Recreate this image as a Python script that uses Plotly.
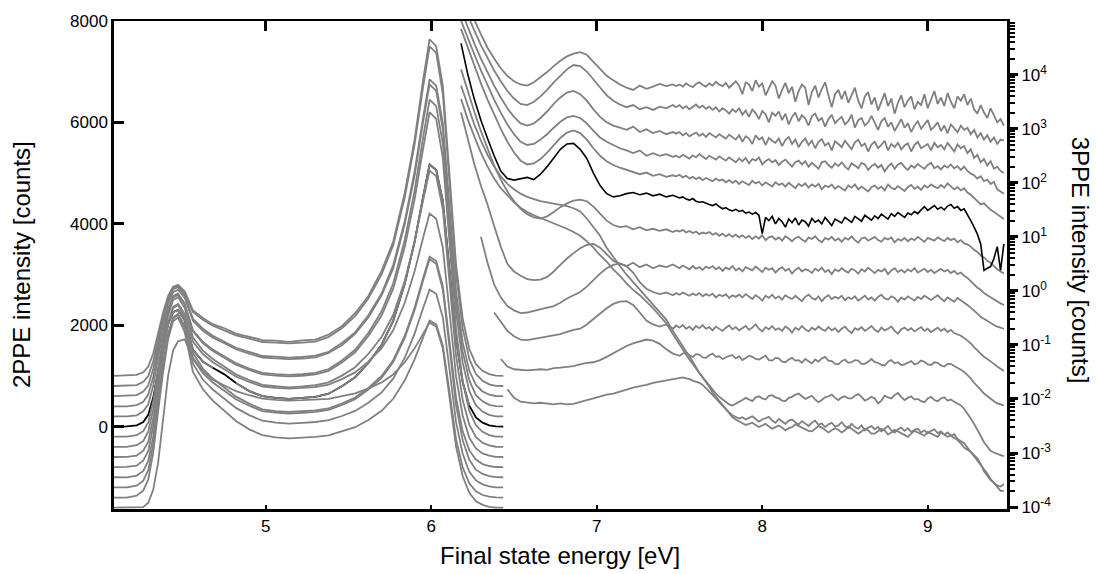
import plotly.graph_objects as go

GRAY = "#808080"
FONT = "Liberation Sans, Arial, sans-serif"

# ---------------- 2PPE spectra (left axis, linear counts) ----------------
energy_2ppe = [4.08, 4.16, 4.22, 4.26, 4.29, 4.32, 4.35, 4.38, 4.41, 4.44,
               4.47, 4.51, 4.56, 4.62, 4.68, 4.75, 4.82, 4.90, 4.98, 5.06,
               5.14, 5.22, 5.30, 5.38, 5.46, 5.54, 5.62, 5.70, 5.77, 5.84,
               5.90, 5.95, 5.99, 6.03, 6.07, 6.11, 6.15, 6.19, 6.23, 6.27,
               6.31, 6.35, 6.39, 6.435]

ppe2_c0 = [1000, 1004, 1020, 1070, 1185, 1440, 1865, 2250, 2580, 2760, 2795, 2670, 2290, 2140, 2020, 1940, 1835, 1775, 1705, 1695, 1670, 1700, 1715, 1815, 1980, 2235, 2575, 3070, 3645, 4615, 5670, 6820, 7640, 7500, 6720, 4980, 3190, 2130, 1530, 1230, 1100, 1035, 1005, 1000]
ppe2_c1 = [800, 805, 818, 882, 995, 1290, 1750, 2175, 2540, 2725, 2772, 2640, 2262, 2105, 1990, 1900, 1800, 1735, 1668, 1655, 1640, 1655, 1675, 1770, 1940, 2180, 2525, 3000, 3575, 4520, 5575, 6680, 7500, 7370, 6560, 4825, 3010, 1940, 1335, 1035, 905, 832, 803, 800]
ppe2_c2 = [600, 603, 620, 690, 812, 1140, 1628, 2110, 2488, 2712, 2750, 2590, 2125, 1930, 1790, 1680, 1555, 1475, 1392, 1378, 1360, 1372, 1400, 1475, 1650, 1858, 2195, 2625, 3185, 4050, 5045, 6080, 6850, 6720, 5980, 4345, 2665, 1660, 1100, 820, 692, 630, 603, 600]
ppe2_c3 = [400, 398, 425, 490, 632, 972, 1508, 2005, 2430, 2650, 2700, 2540, 2085, 1890, 1755, 1645, 1525, 1440, 1362, 1345, 1330, 1342, 1365, 1452, 1605, 1830, 2150, 2590, 3120, 3995, 4960, 5995, 6750, 6620, 5865, 4205, 2500, 1478, 910, 620, 497, 430, 402, 400]
ppe2_c4 = [200, 203, 222, 300, 440, 808, 1360, 1898, 2325, 2575, 2620, 2432, 1900, 1672, 1518, 1385, 1250, 1145, 1058, 1035, 1020, 1032, 1060, 1135, 1305, 1515, 1845, 2275, 2822, 3680, 4665, 5690, 6450, 6320, 5580, 3945, 2265, 1260, 702, 418, 295, 230, 202, 200]
ppe2_black = [0, 2, 25, 90, 232, 572, 1105, 1612, 2020, 2258, 2300, 2095, 1515, 1280, 1160, 1030, 860, 700, 600, 565, 548, 560, 585, 648, 795, 972, 1255, 1615, 2085, 2815, 3655, 4520, 5170, 5060, 4450, 3100, 1710, 880, 412, 182, 78, 25, 3, 0]
ppe2_c6 = [-200, -198, -170, -90, 82, 498, 1146, 1755, 2268, 2540, 2600, 2410, 1878, 1645, 1490, 1356, 1220, 1118, 1028, 1005, 990, 1002, 1028, 1100, 1262, 1465, 1785, 2190, 2720, 3545, 4490, 5470, 6200, 6070, 5300, 3645, 1910, 890, 310, 25, -103, -167, -197, -200]
ppe2_c7 = [-400, -402, -368, -285, -102, 340, 1012, 1668, 2192, 2495, 2550, 2342, 1755, 1498, 1332, 1180, 1030, 918, 822, 795, 775, 792, 815, 872, 1005, 1170, 1432, 1768, 2200, 2875, 3648, 4450, 5050, 4940, 4290, 2865, 1400, 525, 38, -208, -320, -372, -398, -400]
ppe2_c8 = [-600, -598, -572, -476, -300, 158, 848, 1518, 2055, 2362, 2420, 2225, 1670, 1430, 1270, 1128, 988, 880, 790, 765, 748, 762, 780, 826, 935, 1068, 1280, 1548, 1898, 2442, 3070, 3715, 4200, 4100, 3530, 2275, 985, 215, -218, -430, -530, -575, -598, -600]
ppe2_c9 = [-800, -797, -770, -670, -482, 4, 732, 1445, 2012, 2340, 2400, 2150, 1450, 1145, 948, 765, 590, 452, 338, 305, 290, 302, 318, 358, 455, 572, 762, 998, 1310, 1792, 2348, 2920, 3350, 3265, 2770, 1688, 572, -95, -470, -652, -740, -778, -798, -800]
ppe2_c10 = [-1000, -1003, -966, -874, -675, -198, 550, 1250, 1838, 2152, 2220, 1990, 1338, 1055, 870, 702, 540, 410, 305, 275, 258, 272, 288, 328, 425, 540, 728, 962, 1275, 1750, 2305, 2872, 3300, 3210, 2700, 1578, 420, -270, -655, -850, -935, -978, -998, -1000]
ppe2_c11 = [-1200, -1198, -1165, -1066, -858, -352, 435, 1178, 1795, 2130, 2200, 1948, 1240, 928, 730, 545, 368, 225, 115, 78, 60, 74, 90, 125, 208, 308, 470, 675, 945, 1358, 1838, 2330, 2700, 2620, 2155, 1138, 88, -535, -890, -1062, -1140, -1180, -1198, -1200]
ppe2_c12 = [-1400, -1402, -1362, -1260, -1042, -515, 308, 1082, 1728, 2075, 2150, 1870, 1080, 735, 512, 306, 110, -55, -168, -215, -232, -218, -204, -175, -100, -12, 130, 310, 548, 910, 1332, 1765, 2090, 2018, 1600, 695, -250, -805, -1120, -1278, -1350, -1382, -1398, -1400]
ppe2_c13 = [-1600, -1600, -1598, -1588, -1502, -1248, -702, 198, 1005, 1498, 1682, 1720, 1355, 1100, 925, 810, 698, 618, 552, 528, 512, 520, 530, 548, 600, 655, 752, 870, 1028, 1268, 1548, 1832, 2050, 1975, 1540, 588, -395, -980, -1305, -1472, -1545, -1582, -1598, -1600]

ppe2_gray = [ppe2_c0, ppe2_c1, ppe2_c2, ppe2_c3, ppe2_c4, ppe2_c6, ppe2_c7,
             ppe2_c8, ppe2_c9, ppe2_c10, ppe2_c11, ppe2_c12, ppe2_c13]

# stretches (index ranges) where the black 2PPE spectrum is covered by a gray one
black_2ppe_hidden = [(6, 14), (16, 38)]

# ---------------- 3PPE spectra (right axis, log10 of counts) ----------------
energy_3ppe = [6.18, 6.22, 6.26, 6.30, 6.34, 6.38, 6.42, 6.46, 6.50, 6.54,
               6.58, 6.62, 6.66, 6.70, 6.74, 6.78, 6.82, 6.86, 6.90, 6.94,
               6.98, 7.02, 7.06, 7.10, 7.14, 7.18, 7.22, 7.26, 7.30, 7.34,
               7.38, 7.42, 7.46,
               7.48, 7.50, 7.52, 7.54, 7.56, 7.58, 7.60, 7.62, 7.64, 7.66,
               7.68, 7.70, 7.72, 7.74, 7.76, 7.78, 7.80, 7.82, 7.84, 7.86,
               7.88, 7.90, 7.92, 7.94, 7.96, 7.98, 8.00, 8.02, 8.04, 8.06,
               8.08, 8.10, 8.12, 8.14, 8.16, 8.18, 8.20, 8.22, 8.24, 8.26,
               8.28, 8.30, 8.32, 8.34, 8.36, 8.38, 8.40, 8.42, 8.44, 8.46,
               8.48, 8.50, 8.52, 8.54, 8.56, 8.58, 8.60, 8.62, 8.64, 8.66,
               8.68, 8.70, 8.72, 8.74, 8.76, 8.78, 8.80, 8.82, 8.84, 8.86,
               8.88, 8.90, 8.92, 8.94, 8.96, 8.98, 9.00, 9.02, 9.04, 9.06,
               9.08, 9.10, 9.12, 9.14, 9.16, 9.18, 9.20, 9.22, 9.24, 9.26,
               9.28, 9.30, 9.32, 9.34, 9.36, 9.38, 9.40, 9.42, 9.44, 9.46]

ppe3_log_c0 = [5.60, 5.30, 5.02, 4.75, 4.50, 4.30, 4.12, 3.98, 3.88, 3.82,
               3.80, 3.86, 3.95, 4.05, 4.16, 4.26, 4.34, 4.39, 4.42, 4.37,
               4.24, 4.10, 3.98, 3.90, 3.82, 3.76, 3.72, 3.80, 3.74, 3.78,
               3.83, 3.79, 3.82,
               3.79, 3.82, 3.78, 3.84, 3.80, 3.77, 3.83, 3.86, 3.81, 3.78,
               3.84, 3.80, 3.87, 3.82, 3.79, 3.85, 3.76, 3.83, 3.88, 3.80,
               3.64, 3.86, 3.82, 3.70, 3.90, 3.78, 3.84, 3.62, 3.75, 3.88,
               3.80, 3.56, 3.72, 3.85, 3.66, 3.78, 3.50, 3.70, 3.82, 3.76,
               3.44, 3.68, 3.80, 3.58, 3.74, 3.86, 3.62, 3.40, 3.64, 3.72,
               3.55, 3.70, 3.48, 3.62, 3.76, 3.52, 3.38, 3.60, 3.68, 3.45,
               3.58, 3.34, 3.50, 3.66, 3.42, 3.56, 3.28, 3.48, 3.62, 3.40,
               3.52, 3.60, 3.36, 3.50, 3.44, 3.64, 3.38, 3.54, 3.70, 3.46,
               3.58, 3.42, 3.66, 3.50, 3.38, 3.60, 3.52, 3.64, 3.44, 3.56,
               3.36, 3.28, 3.44, 3.30, 3.20, 3.38, 3.26, 3.12, 3.18, 3.06]
ppe3_log_c1 = [5.40, 5.10, 4.82, 4.55, 4.30, 4.08, 3.88, 3.70, 3.56, 3.46,
               3.44, 3.50, 3.60, 3.72, 3.86, 3.99, 4.10, 4.18, 4.16, 4.06,
               3.92, 3.76, 3.62, 3.52, 3.45, 3.40, 3.44, 3.36, 3.40, 3.35,
               3.41, 3.38, 3.44,
               3.40, 3.44, 3.38, 3.42, 3.36, 3.41, 3.45, 3.39, 3.43, 3.37,
               3.41, 3.35, 3.40, 3.32, 3.38, 3.34, 3.28, 3.36, 3.31, 3.38,
               3.26, 3.34, 3.22, 3.36, 3.29, 3.18, 3.33, 3.27, 3.12, 3.30,
               3.24, 3.32, 3.16, 3.28, 3.08, 3.22, 3.30, 3.14, 3.25, 3.19,
               3.06, 3.23, 3.28, 3.15, 3.20, 3.04, 3.18, 3.26, 3.10, 3.17,
               3.22, 3.08, 3.14, 3.26, 3.02, 3.16, 3.20, 3.06, 3.12, 3.24,
               3.10, 2.98, 3.14, 3.20, 3.04, 3.12, 2.96, 3.08, 3.18, 3.02,
               3.10, 2.94, 3.06, 3.14, 3.00, 3.08, 3.16, 2.98, 3.04, 3.12,
               2.96, 3.06, 2.92, 3.08, 3.00, 2.94, 3.06, 2.98, 3.02, 2.90,
               2.98, 2.84, 2.92, 2.80, 2.88, 2.76, 2.84, 2.72, 2.80, 2.78]
ppe3_log_c2 = [5.20, 4.88, 4.58, 4.30, 4.04, 3.80, 3.58, 3.38, 3.22, 3.10,
               3.06, 3.10, 3.20, 3.32, 3.46, 3.58, 3.67, 3.70, 3.64, 3.52,
               3.36, 3.22, 3.12, 3.06, 3.02, 2.98, 3.04, 2.94, 2.99, 2.92,
               2.96, 2.90, 2.94,
               2.91, 2.94, 2.88, 2.92, 2.86, 2.90, 2.93, 2.87, 2.91, 2.85,
               2.92, 2.88, 2.84, 2.90, 2.86, 2.82, 2.89, 2.85, 2.80, 2.88,
               2.76, 2.86, 2.82, 2.72, 2.88, 2.80, 2.84, 2.70, 2.83, 2.78,
               2.74, 2.82, 2.68, 2.79, 2.85, 2.72, 2.80, 2.66, 2.76, 2.82,
               2.70, 2.78, 2.64, 2.76, 2.81, 2.69, 2.74, 2.60, 2.77, 2.72,
               2.66, 2.78, 2.70, 2.62, 2.75, 2.80, 2.68, 2.73, 2.58, 2.71,
               2.76, 2.64, 2.70, 2.78, 2.60, 2.72, 2.66, 2.74, 2.62, 2.69,
               2.73, 2.58, 2.70, 2.76, 2.64, 2.68, 2.72, 2.60, 2.74, 2.66,
               2.70, 2.62, 2.74, 2.66, 2.58, 2.71, 2.64, 2.68, 2.55, 2.62,
               2.46, 2.52, 2.38, 2.44, 2.32, 2.40, 2.26, 2.30, 2.22, 2.18]
ppe3_log_c3 = [5.00, 4.68, 4.38, 4.08, 3.80, 3.54, 3.30, 3.08, 2.90, 2.76,
               2.70, 2.72, 2.80, 2.90, 3.02, 3.13, 3.21, 3.24, 3.20, 3.10,
               2.96, 2.84, 2.76, 2.70, 2.64, 2.60, 2.55, 2.60, 2.50, 2.55,
               2.50, 2.53, 2.48,
               2.50, 2.47, 2.52, 2.48, 2.45, 2.51, 2.47, 2.53, 2.49, 2.44,
               2.50, 2.46, 2.43, 2.49, 2.45, 2.41, 2.47, 2.42, 2.38, 2.45,
               2.40, 2.46, 2.36, 2.44, 2.41, 2.47, 2.34, 2.40, 2.44, 2.38,
               2.42, 2.33, 2.39, 2.43, 2.36, 2.30, 2.38, 2.41, 2.34, 2.40,
               2.30, 2.37, 2.32, 2.26, 2.38, 2.40, 2.33, 2.28, 2.36, 2.31,
               2.38, 2.30, 2.25, 2.36, 2.32, 2.27, 2.37, 2.34, 2.24, 2.31,
               2.35, 2.28, 2.33, 2.21, 2.30, 2.36, 2.26, 2.34, 2.37, 2.29,
               2.24, 2.32, 2.28, 2.35, 2.30, 2.26, 2.33, 2.37, 2.27, 2.31,
               2.25, 2.32, 2.28, 2.34, 2.27, 2.31, 2.24, 2.30, 2.22, 2.17,
               2.14, 2.08, 2.12, 2.03, 2.06, 1.98, 2.02, 1.88, 1.84, 1.80]
ppe3_log_c4 = [4.85, 4.50, 4.16, 3.84, 3.54, 3.26, 3.00, 2.76, 2.56, 2.41,
               2.34, 2.36, 2.44, 2.56, 2.70, 2.83, 2.93, 2.97, 2.92, 2.80,
               2.64, 2.50, 2.40, 2.33, 2.28, 2.24, 2.20, 2.16, 2.19, 2.13,
               2.16, 2.11, 2.14,
               2.12, 2.15, 2.10, 2.13, 2.08, 2.11, 2.07, 2.10, 2.05, 2.09,
               2.06, 2.03, 2.08, 2.04, 2.06, 2.01, 2.05, 2.00, 2.04, 1.98,
               2.03, 2.00, 1.96, 2.04, 1.99, 2.02, 1.95, 2.01, 1.97, 1.93,
               2.01, 1.96, 1.99, 1.93, 2.00, 1.95, 1.90, 1.98, 1.94, 1.99,
               1.91, 1.97, 1.93, 1.98, 1.88, 1.95, 1.92, 1.97, 1.89, 1.94,
               1.90, 1.86, 1.95, 1.91, 1.97, 1.88, 1.93, 1.89, 1.84, 1.92,
               1.95, 1.89, 1.93, 1.86, 1.97, 1.91, 1.88, 1.94, 1.90, 1.85,
               1.92, 1.96, 1.89, 1.93, 1.87, 1.95, 1.91, 1.97, 1.93, 1.90,
               1.96, 1.91, 1.99, 1.94, 1.88, 1.92, 1.86, 1.90, 1.82, 1.78,
               1.72, 1.66, 1.60, 1.62, 1.55, 1.50, 1.46, 1.42, 1.38, 1.33]
ppe3_log_black = [4.58, 4.02, 3.55, 3.16, 2.82, 2.50, 2.22, 2.08, 2.05, 2.07,
                  2.10, 2.06, 2.16, 2.30, 2.46, 2.62, 2.72, 2.73, 2.62, 2.45,
                  2.18, 1.95, 1.80, 1.74, 1.76, 1.80, 1.82, 1.78, 1.81, 1.76,
                  1.79, 1.74, 1.77,
                  1.75, 1.72, 1.74, 1.70, 1.68, 1.71, 1.66, 1.64, 1.65, 1.62,
                  1.60, 1.58, 1.61, 1.56, 1.52, 1.54, 1.50, 1.48, 1.51, 1.47,
                  1.49, 1.44, 1.46, 1.42, 1.45, 1.40, 1.06, 1.36, 1.30, 1.38,
                  1.24, 1.34, 1.28, 1.18, 1.33, 1.26, 1.35, 1.22, 1.31, 1.28,
                  1.20, 1.34, 1.27, 1.31, 1.24, 1.36, 1.29, 1.21, 1.33, 1.30,
                  1.26, 1.36, 1.31, 1.27, 1.38, 1.33, 1.29, 1.40, 1.35, 1.31,
                  1.39, 1.34, 1.42, 1.37, 1.33, 1.43, 1.38, 1.45, 1.40, 1.36,
                  1.44, 1.41, 1.47, 1.43, 1.50, 1.56, 1.49, 1.53, 1.58, 1.51,
                  1.55, 1.50, 1.57, 1.60, 1.53, 1.56, 1.49, 1.52, 1.42, 1.30,
                  1.18, 1.05, 0.87, 0.38, 0.42, 0.45, 0.60, 0.82, 0.38, 0.87]
ppe3_log_c6 = [4.10, 3.70, 3.32, 2.96, 2.62, 2.32, 2.06, 1.84, 1.66, 1.52,
               1.42, 1.36, 1.34, 1.38, 1.46, 1.55, 1.62, 1.67, 1.69, 1.66,
               1.56, 1.42, 1.30, 1.22, 1.18, 1.20, 1.14, 1.18, 1.12, 1.15,
               1.11, 1.14, 1.09,
               1.12, 1.10, 1.13, 1.08, 1.11, 1.07, 1.10, 1.05, 1.08, 1.06,
               1.09, 1.04, 1.07, 1.02, 1.06, 1.01, 1.05, 1.00, 1.04, 0.99,
               1.03, 0.98, 1.02, 0.96, 1.01, 0.97, 1.03, 0.94, 0.99, 1.01,
               0.95, 0.99, 0.93, 1.01, 0.97, 0.92, 0.98, 1.00, 0.95, 0.91,
               0.99, 0.96, 1.01, 0.94, 0.90, 0.98, 0.95, 1.00, 0.93, 0.97,
               0.91, 0.98, 0.95, 1.01, 0.94, 0.89, 0.97, 0.99, 0.93, 0.96,
               1.00, 0.94, 0.91, 0.98, 0.95, 0.99, 0.90, 0.96, 0.93, 0.98,
               0.92, 0.97, 0.94, 1.00, 0.96, 0.91, 0.98, 0.95, 0.93, 0.99,
               0.95, 0.92, 0.98, 0.94, 0.97, 0.90, 0.94, 0.88, 0.86, 0.82,
               0.76, 0.72, 0.66, 0.62, 0.56, 0.52, 0.46, 0.40, 0.36, 0.32]
ppe3_log_c7 = [3.30, 2.80, 2.35, 1.95, 1.60, 1.20, 0.82, 0.50, 0.36, 0.28,
               0.22, 0.20, 0.21, 0.26, 0.36, 0.48, 0.60, 0.70, 0.79, 0.85,
               0.87, 0.80, 0.68, 0.56, 0.50, 0.46, 0.52, 0.44, 0.49, 0.42,
               0.47, 0.44, 0.49,
               0.45, 0.42, 0.47, 0.43, 0.40, 0.46, 0.41, 0.44, 0.39, 0.45,
               0.42, 0.46, 0.40, 0.44, 0.37, 0.43, 0.40, 0.46, 0.38, 0.42,
               0.36, 0.44, 0.41, 0.38, 0.45, 0.40, 0.35, 0.43, 0.39, 0.42,
               0.34, 0.40, 0.44, 0.37, 0.41, 0.32, 0.39, 0.43, 0.36, 0.40,
               0.38, 0.33, 0.41, 0.37, 0.43, 0.35, 0.39, 0.31, 0.40, 0.36,
               0.42, 0.37, 0.34, 0.41, 0.38, 0.32, 0.40, 0.36, 0.43, 0.38,
               0.33, 0.39, 0.36, 0.41, 0.31, 0.38, 0.42, 0.35, 0.39, 0.34,
               0.40, 0.36, 0.42, 0.34, 0.38, 0.41, 0.35, 0.39, 0.33, 0.37,
               0.41, 0.36, 0.39, 0.33, 0.37, 0.31, 0.34, 0.28, 0.24, 0.18,
               0.12, 0.06, 0.02, -0.04, -0.08, -0.12, -0.16, -0.20, -0.23, -0.26]
ppe3_log_c8 = [None, None, None, 1.00, 0.52, 0.12, -0.12, -0.28, -0.36, -0.41,
               -0.40, -0.37, -0.34, -0.30, -0.28, -0.22, -0.14, -0.08, -0.02, 0.08,
               0.20, 0.32, 0.42, 0.48, 0.51, 0.46, 0.34, 0.16, 0.04, -0.02,
               -0.06, -0.03, -0.08,
               -0.04, -0.07, -0.03, -0.06, -0.09, -0.05, -0.08, -0.04, -0.10, -0.06,
               -0.09, -0.05, -0.12, -0.07, -0.10, -0.06, -0.13, -0.08, -0.11, -0.07,
               -0.12, -0.06, -0.10, -0.15, -0.08, -0.12, -0.18, -0.09, -0.13, -0.07,
               -0.14, -0.10, -0.16, -0.08, -0.12, -0.15, -0.09, -0.14, -0.19, -0.11,
               -0.07, -0.13, -0.16, -0.10, -0.19, -0.12, -0.08, -0.15, -0.11, -0.14,
               -0.09, -0.17, -0.12, -0.15, -0.10, -0.18, -0.13, -0.09, -0.16, -0.12,
               -0.18, -0.11, -0.07, -0.14, -0.16, -0.10, -0.13, -0.20, -0.12, -0.16,
               -0.10, -0.14, -0.18, -0.11, -0.15, -0.09, -0.13, -0.17, -0.12, -0.08,
               -0.14, -0.19, -0.12, -0.16, -0.20, -0.13, -0.17, -0.22, -0.26, -0.31,
               -0.36, -0.42, -0.48, -0.52, -0.56, -0.60, -0.63, -0.66, -0.68, -0.70]
ppe3_log_c9 = [None, None, None, None, None, -0.40, -0.56, -0.74, -0.84, -0.90,
               -0.91, -0.89, -0.86, -0.84, -0.83, -0.80, -0.76, -0.72, -0.70, -0.62,
               -0.52, -0.42, -0.32, -0.24, -0.20, -0.19, -0.26, -0.40, -0.55, -0.62,
               -0.66, -0.62, -0.70,
               -0.64, -0.68, -0.63, -0.70, -0.66, -0.72, -0.65, -0.69, -0.63, -0.70,
               -0.67, -0.73, -0.66, -0.70, -0.74, -0.68, -0.64, -0.71, -0.67, -0.73,
               -0.69, -0.65, -0.72, -0.68, -0.62, -0.70, -0.75, -0.67, -0.71, -0.65,
               -0.72, -0.69, -0.74, -0.66, -0.70, -0.77, -0.68, -0.72, -0.65, -0.71,
               -0.75, -0.68, -0.72, -0.66, -0.71, -0.74, -0.67, -0.73, -0.69, -0.76,
               -0.70, -0.66, -0.73, -0.78, -0.69, -0.72, -0.67, -0.74, -0.70, -0.65,
               -0.72, -0.76, -0.68, -0.73, -0.70, -0.66, -0.74, -0.79, -0.71, -0.68,
               -0.73, -0.69, -0.75, -0.71, -0.67, -0.74, -0.70, -0.76, -0.72, -0.68,
               -0.74, -0.70, -0.76, -0.72, -0.78, -0.80, -0.83, -0.87, -0.92, -0.97,
               -1.04, -1.10, -1.16, -1.22, -1.26, -1.30, -1.35, -1.40, -1.44, -1.48]
ppe3_log_c10 = [None, None, None, None, None, None, -1.26, -1.40, -1.45, -1.46,
                -1.47, -1.46, -1.45, -1.46, -1.43, -1.42, -1.41, -1.39, -1.36, -1.33,
                -1.32, -1.28, -1.22, -1.15, -1.08, -1.02, -0.97, -0.93, -0.90, -0.92,
                -0.98, -1.08, -1.16,
                -1.18, -1.20, -1.16, -1.14, -1.19, -1.22, -1.17, -1.18, -1.23, -1.24,
                -1.19, -1.16, -1.22, -1.21, -1.26, -1.23, -1.20, -1.19, -1.25, -1.21,
                -1.28, -1.24, -1.20, -1.22, -1.26, -1.27, -1.23, -1.20, -1.28, -1.29,
                -1.24, -1.25, -1.31, -1.32, -1.27, -1.24, -1.29, -1.28, -1.33, -1.26,
                -1.30, -1.34, -1.27, -1.31, -1.25, -1.22, -1.29, -1.30, -1.35, -1.36,
                -1.30, -1.27, -1.33, -1.32, -1.28, -1.29, -1.35, -1.35, -1.31, -1.26,
                -1.32, -1.33, -1.37, -1.38, -1.31, -1.28, -1.34, -1.32, -1.37, -1.36,
                -1.33, -1.30, -1.36, -1.34, -1.29, -1.31, -1.36, -1.37, -1.32, -1.33,
                -1.38, -1.40, -1.35, -1.35, -1.39, -1.42, -1.46, -1.50, -1.56, -1.62,
                -1.70, -1.76, -1.83, -1.90, -1.95, -2.00, -2.04, -2.08, -2.10, -2.12]
ppe3_log_c11 = [None, None, None, None, None, None, None, -1.82, -1.98, -2.05,
                -2.06, -2.08, -2.07, -2.09, -2.10, -2.08, -2.10, -2.09, -2.05, -2.02,
                -1.99, -1.95, -1.92, -1.90, -1.86, -1.82, -1.79, -1.76, -1.74, -1.70,
                -1.68, -1.66, -1.63,
                -1.62, -1.61, -1.60, -1.62, -1.63, -1.66, -1.68, -1.70, -1.74, -1.80,
                -1.86, -1.92, -1.99, -2.06, -2.13, -2.20, -2.25, -2.30, -2.33, -2.36,
                -2.34, -2.38, -2.35, -2.32, -2.37, -2.42, -2.38, -2.36, -2.33, -2.40,
                -2.44, -2.37, -2.41, -2.46, -2.40, -2.38, -2.43, -2.47, -2.41, -2.46,
                -2.50, -2.44, -2.40, -2.48, -2.45, -2.52, -2.47, -2.44, -2.51, -2.49,
                -2.43, -2.50, -2.54, -2.46, -2.52, -2.55, -2.49, -2.58, -2.53, -2.50,
                -2.56, -2.52, -2.60, -2.55, -2.50, -2.58, -2.62, -2.56, -2.53, -2.59,
                -2.54, -2.61, -2.57, -2.55, -2.62, -2.58, -2.64, -2.59, -2.56, -2.63,
                -2.60, -2.66, -2.62, -2.68, -2.72, -2.76, -2.82, -2.90, -2.94, -2.98,
                -3.04, -3.10, -3.20, -3.34, -3.42, -3.50, -3.55, -3.60, -3.62, -3.58]
ppe3_log_c12 = [3.80, 3.42, 3.08, 2.78, 2.52, 2.30, 2.12, 1.98, 1.88, 1.80,
                1.74, 1.70, 1.66, 1.64, 1.62, 1.60, 1.57, 1.53, 1.47, 1.34,
                1.18, 1.02, 0.80, 0.62, 0.46, 0.30, 0.16, 0.02, -0.10, -0.24,
                -0.38, -0.53, -0.74,
                -0.84, -0.94, -1.03, -1.12, -1.21, -1.30, -1.41, -1.52, -1.60, -1.68,
                -1.76, -1.84, -1.90, -1.96, -2.01, -2.06, -2.10, -2.12, -2.09, -2.06,
                -2.02, -1.98, -2.01, -2.04, -1.97, -1.95, -1.99, -2.01, -1.94, -1.93,
                -1.97, -1.99, -2.03, -2.04, -1.98, -1.96, -1.92, -1.90, -1.95, -2.00,
                -1.97, -1.94, -2.01, -2.06, -2.02, -1.97, -1.95, -1.92, -1.98, -2.02,
                -1.97, -1.95, -1.99, -1.99, -1.94, -1.91, -1.96, -2.03, -2.00, -1.96,
                -1.99, -2.08, -2.03, -1.94, -1.97, -1.99, -1.93, -1.89, -1.96, -2.02,
                -1.98, -1.95, -2.01, -2.00, -2.04, -2.06, -1.99, -1.96, -2.02, -2.04,
                -1.99, -1.97, -2.03, -2.01, -2.05, -2.08, -2.12, -2.18, -2.26, -2.36,
                -2.46, -2.56, -2.68, -2.80, -2.88, -2.96, -2.99, -3.02, -3.04, -3.06]
ppe3_log_c13 = [3.55, 3.18, 2.86, 2.56, 2.30, 2.08, 1.90, 1.76, 1.64, 1.54,
                1.46, 1.40, 1.35, 1.30, 1.26, 1.21, 1.15, 1.09, 1.02, 0.92,
                0.80, 0.66, 0.54, 0.40, 0.28, 0.14, 0.02, -0.08, -0.20, -0.32,
                -0.46, -0.60, -0.80,
                -0.90, -1.00, -1.09, -1.18, -1.27, -1.36, -1.44, -1.52, -1.60, -1.68,
                -1.78, -1.88, -1.96, -2.04, -2.12, -2.20, -2.27, -2.34, -2.38, -2.42,
                -2.45, -2.48, -2.46, -2.44, -2.48, -2.52, -2.49, -2.46, -2.51, -2.55,
                -2.52, -2.49, -2.53, -2.58, -2.54, -2.52, -2.47, -2.50, -2.54, -2.56,
                -2.59, -2.60, -2.55, -2.50, -2.53, -2.58, -2.62, -2.58, -2.54, -2.57,
                -2.62, -2.58, -2.51, -2.55, -2.59, -2.64, -2.60, -2.55, -2.58, -2.64,
                -2.64, -2.60, -2.55, -2.58, -2.66, -2.62, -2.57, -2.60, -2.63, -2.67,
                -2.70, -2.64, -2.59, -2.62, -2.65, -2.68, -2.61, -2.64, -2.68, -2.70,
                -2.62, -2.66, -2.70, -2.68, -2.65, -2.74, -2.78, -2.82, -2.90, -2.98,
                -3.05, -3.12, -3.20, -3.30, -3.38, -3.48, -3.55, -3.62, -3.70, -3.70]

ppe3_gray = [ppe3_log_c0, ppe3_log_c1, ppe3_log_c2, ppe3_log_c3, ppe3_log_c4,
             ppe3_log_c6, ppe3_log_c7, ppe3_log_c8, ppe3_log_c9, ppe3_log_c10,
             ppe3_log_c11, ppe3_log_c12, ppe3_log_c13]

# tick labels
x_ticks = [5, 6, 7, 8, 9]
y_left_ticks = [0, 2000, 4000, 6000, 8000]
y_right_exp = [-4, -3, -2, -1, 0, 1, 2, 3, 4]
y_right_text = ["10<sup>%d</sup>" % e for e in y_right_exp]


def to_counts(vals):
    return [None if v is None else 10 ** v for v in vals]


LW = 1.8
fig = go.Figure()

# 2PPE: black spectrum first, then grays
fig.add_trace(go.Scatter(x=energy_2ppe, y=ppe2_black, mode="lines",
                         line=dict(color="black", width=LW),
                         xaxis="x", yaxis="y", hoverinfo="skip"))
for a, b in black_2ppe_hidden:
    seg = [v if a <= i <= b else None for i, v in enumerate(ppe2_black)]
    fig.add_trace(go.Scatter(x=energy_2ppe, y=seg, mode="lines",
                             line=dict(color=GRAY, width=LW),
                             xaxis="x", yaxis="y", hoverinfo="skip"))
for ys in ppe2_gray:
    fig.add_trace(go.Scatter(x=energy_2ppe, y=ys, mode="lines",
                             line=dict(color=GRAY, width=LW),
                             xaxis="x", yaxis="y", hoverinfo="skip"))

# 3PPE: grays, black on top
for ys in ppe3_gray:
    fig.add_trace(go.Scatter(x=energy_3ppe, y=to_counts(ys), mode="lines",
                             line=dict(color=GRAY, width=LW),
                             xaxis="x2", yaxis="y2", hoverinfo="skip",
                             connectgaps=False))
fig.add_trace(go.Scatter(x=energy_3ppe, y=to_counts(ppe3_log_black), mode="lines",
                         line=dict(color="black", width=1.6),
                         xaxis="x2", yaxis="y2", hoverinfo="skip"))

XR = [4.083, 9.479]
tickfont = dict(family=FONT, size=17, color="black")
titlefont = dict(family=FONT, size=24, color="black")

fig.update_layout(
    width=1097, height=574,
    margin=dict(l=114, r=90, t=14, b=65),
    paper_bgcolor="white", plot_bgcolor="white",
    showlegend=False,
    font=dict(family=FONT, color="black"),
    xaxis=dict(range=XR, tickvals=x_ticks, ticks="inside", ticklen=4,
               tickwidth=2, tickcolor="black", showline=True, linewidth=2.5,
               linecolor="black", showgrid=False, zeroline=False,
               tickfont=tickfont, anchor="y"),
    xaxis2=dict(range=XR, overlaying="x", side="top", anchor="y2",
                tickvals=x_ticks, ticks="inside", ticklen=10, tickwidth=2.5,
                tickcolor="black", showline=True, linewidth=2,
                linecolor="black", showgrid=False, zeroline=False,
                showticklabels=False),
    yaxis=dict(range=[-1626, 8000], tickvals=y_left_ticks, ticks="inside",
               ticklen=10, tickwidth=2.5, tickcolor="black", showline=True,
               linewidth=2.5, linecolor="black", showgrid=False,
               zeroline=False, tickfont=tickfont, anchor="x"),
    yaxis2=dict(type="log", range=[-4.036, 4.995], overlaying="y",
                side="right", anchor="x2",
                tickvals=[10 ** e for e in y_right_exp], ticktext=y_right_text,
                ticks="outside", ticklen=8, tickwidth=2.5, tickcolor="black",
                minor=dict(ticks="outside", ticklen=5, tickwidth=1.5,
                           tickcolor="black", dtick="D1", showgrid=False),
                showline=True, linewidth=3, linecolor="black",
                showgrid=False, zeroline=False, tickfont=tickfont),
    annotations=[
        dict(text="Final state energy [eV]", xref="paper", yref="paper",
             x=0.4994, y=-0.095, xanchor="center", yanchor="middle",
             showarrow=False, font=titlefont),
        dict(text="2PPE intensity [counts]", xref="paper", yref="paper",
             x=-0.1041, y=0.5, xanchor="center", yanchor="middle",
             textangle=-90, showarrow=False, font=titlefont),
        dict(text="3PPE intensity [counts]", xref="paper", yref="paper",
             x=1.0817, y=0.509, xanchor="center", yanchor="middle",
             textangle=90, showarrow=False, font=titlefont),
    ],
)

fig.write_html("out.html")
